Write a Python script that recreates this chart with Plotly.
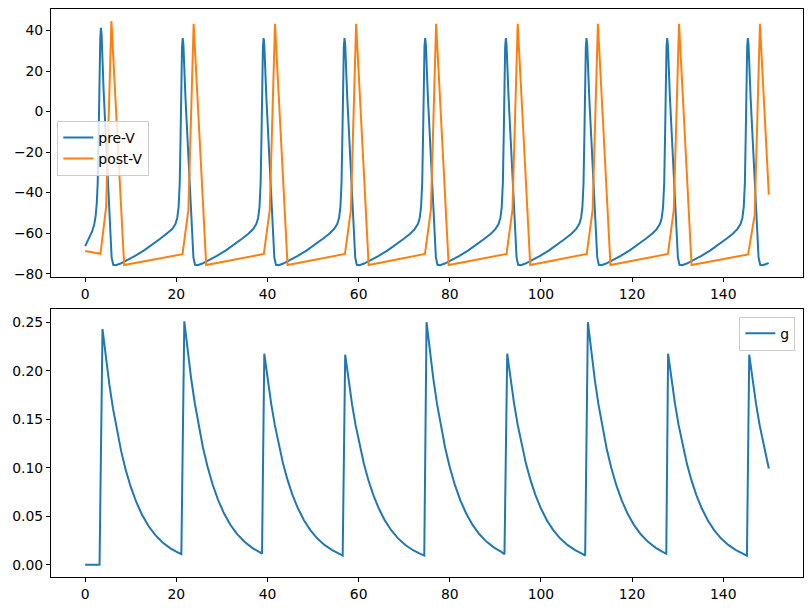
import plotly.graph_objects as go

# ---------------- data ----------------
pre_t = [0, 0.8, 1.5, 2.0, 2.3, 2.55, 2.75, 2.95, 3.1, 3.3, 3.45,
         3.6, 4.05, 4.75, 5.15, 5.5, 5.8, 6.15, 6.75, 7.75, 9.15, 10.95, 12.85, 14.65, 16.45, 17.85,
         19.1, 19.8, 20.2, 20.5, 20.75, 20.95, 21.1, 21.25, 21.4,
         21.55, 22.0, 22.7, 23.1, 23.45, 23.75, 24.1, 24.7, 25.7, 27.1, 28.9, 30.8, 32.6, 34.4, 35.8,
         36.85, 37.55, 37.95, 38.25, 38.5, 38.7, 38.85, 39.0, 39.15,
         39.3, 39.75, 40.45, 40.85, 41.2, 41.5, 41.85, 42.45, 43.45, 44.85, 46.65, 48.55, 50.35, 52.15, 53.55,
         54.6, 55.3, 55.7, 56.0, 56.25, 56.45, 56.6, 56.75, 56.9,
         57.05, 57.5, 58.2, 58.6, 58.95, 59.25, 59.6, 60.2, 61.2, 62.6, 64.4, 66.3, 68.1, 69.9, 71.3,
         72.3, 73.0, 73.4, 73.7, 73.95, 74.15, 74.3, 74.45, 74.6,
         74.75, 75.2, 75.9, 76.3, 76.65, 76.95, 77.3, 77.9, 78.9, 80.3, 82.1, 84.0, 85.8, 87.6, 89.0,
         90.0, 90.7, 91.1, 91.4, 91.65, 91.85, 92.0, 92.15, 92.3,
         92.45, 92.9, 93.6, 94.0, 94.35, 94.65, 95.0, 95.6, 96.6, 98.0, 99.8, 101.7, 103.5, 105.3, 106.7,
         107.7, 108.4, 108.8, 109.1, 109.35, 109.55, 109.7, 109.85, 110.0,
         110.15, 110.6, 111.3, 111.7, 112.05, 112.35, 112.7, 113.3, 114.3, 115.7, 117.5, 119.4, 121.2, 123.0, 124.4,
         125.4, 126.1, 126.5, 126.8, 127.05, 127.25, 127.4, 127.55, 127.7,
         127.85, 128.3, 129.0, 129.4, 129.75, 130.05, 130.4, 131.0, 132.0, 133.4, 135.2, 137.1, 138.9, 140.7, 142.1,
         143.1, 143.8, 144.2, 144.5, 144.75, 144.95, 145.1, 145.25, 145.4,
         145.55, 146.0, 146.7, 147.1, 147.45, 147.75, 148.1, 148.7, 149.7, 150.0]

pre_v = [-66.4, -63.0, -59.3, -55.5, -51.5, -45.0, -35.0, -12.0, 12.0, 35.0, 41.3,
         38, 10, -25, -43, -62, -72, -75.6, -75.8, -75.0, -73.5, -71.2, -68.6, -65.9, -62.8, -60.3,
         -58.0, -55.5, -52.5, -47, -35, -10, 15, 32, 36.3,
         33, 7, -25, -43, -62, -72, -75.6, -75.8, -75.0, -73.5, -71.2, -68.6, -65.9, -62.8, -60.3,
         -58.0, -55.5, -52.5, -47, -35, -10, 15, 32, 36.3,
         33, 7, -25, -43, -62, -72, -75.6, -75.8, -75.0, -73.5, -71.2, -68.6, -65.9, -62.8, -60.3,
         -58.0, -55.5, -52.5, -47, -35, -10, 15, 32, 36.3,
         33, 7, -25, -43, -62, -72, -75.6, -75.8, -75.0, -73.5, -71.2, -68.6, -65.9, -62.8, -60.3,
         -58.0, -55.5, -52.5, -47, -35, -10, 15, 32, 36.3,
         33, 7, -25, -43, -62, -72, -75.6, -75.8, -75.0, -73.5, -71.2, -68.6, -65.9, -62.8, -60.3,
         -58.0, -55.5, -52.5, -47, -35, -10, 15, 32, 36.3,
         33, 7, -25, -43, -62, -72, -75.6, -75.8, -75.0, -73.5, -71.2, -68.6, -65.9, -62.8, -60.3,
         -58.0, -55.5, -52.5, -47, -35, -10, 15, 32, 36.3,
         33, 7, -25, -43, -62, -72, -75.6, -75.8, -75.0, -73.5, -71.2, -68.6, -65.9, -62.8, -60.3,
         -58.0, -55.5, -52.5, -47, -35, -10, 15, 32, 36.3,
         33, 7, -25, -43, -62, -72, -75.6, -75.8, -75.0, -73.5, -71.2, -68.6, -65.9, -62.8, -60.3,
         -58.0, -55.5, -52.5, -47, -35, -10, 15, 32, 36.3,
         33, 7, -25, -43, -62, -72, -75.6, -75.8, -75.0, -74.8]

post_t = [0, 3.35, 4.6, 5.75, 8.55,
          21.35, 22.65, 23.8, 26.55,
          39.2, 40.5, 41.65, 44.4,
          57.0, 58.3, 59.45, 62.2,
          74.55, 75.85, 77.0, 79.75,
          92.45, 93.75, 94.9, 97.65,
          110.05, 111.35, 112.5, 115.25,
          127.85, 129.15, 130.3, 133.05,
          145.45, 146.9, 148.05, 150.0]

post_v = [-68.8, -70.2, -47.0, 44.6, -75.7,
          -70.4, -48.5, 43.3, -75.7,
          -70.3, -48.5, 43.3, -75.7,
          -70.3, -48.5, 43.3, -75.7,
          -70.3, -48.5, 43.3, -75.7,
          -70.3, -48.5, 43.3, -75.7,
          -70.3, -48.5, 43.3, -75.7,
          -70.3, -48.5, 43.3, -75.7,
          -70.5, -51.0, 43.3, -41.0]

g_t = [0, 3.15,
       3.8, 4.5, 5.3, 6.1, 7.0, 7.9, 8.9, 10.0, 11.2, 12.5, 13.9, 15.4, 17.0, 18.7, 20.3, 21.1,
       21.75, 22.45, 23.25, 24.05, 24.95, 25.85, 26.85, 27.95, 29.15, 30.45, 31.85, 33.35, 34.95, 36.65, 38.25, 38.8,
       39.3, 40.0, 40.8, 41.6, 42.5, 43.4, 44.4, 45.5, 46.7, 48.0, 49.4, 50.9, 52.5, 54.2, 55.8, 56.5,
       57.05, 57.75, 58.55, 59.35, 60.25, 61.15, 62.15, 63.25, 64.45, 65.75, 67.15, 68.65, 70.25, 71.95, 73.55, 74.4,
       74.9, 75.6, 76.4, 77.2, 78.1, 79.0, 80.0, 81.1, 82.3, 83.6, 85.0, 86.5, 88.1, 89.8, 91.4, 92.0,
       92.6, 93.3, 94.1, 94.9, 95.8, 96.7, 97.7, 98.8, 100.0, 101.3, 102.7, 104.2, 105.8, 107.5, 109.1, 109.7,
       110.3, 111.0, 111.8, 112.6, 113.5, 114.4, 115.4, 116.5, 117.7, 119.0, 120.4, 121.9, 123.5, 125.2, 126.8, 127.5,
       127.9, 128.6, 129.4, 130.2, 131.1, 132.0, 133.0, 134.1, 135.3, 136.6, 138.0, 139.5, 141.1, 142.8, 144.4, 145.2,
       145.7, 146.4, 147.2, 148.0, 148.9, 149.8, 150.0]

g_v = [0, 0,
       0.2430, 0.2144, 0.1859, 0.1612, 0.1372, 0.1169, 0.0977, 0.0803, 0.0648, 0.0514, 0.0400, 0.0306, 0.0230, 0.0170, 0.0128, 0.0110,
       0.2510, 0.2215, 0.1920, 0.1665, 0.1417, 0.1207, 0.1010, 0.0830, 0.0670, 0.0531, 0.0413, 0.0316, 0.0238, 0.0175, 0.0132, 0.0115,
       0.2175, 0.1919, 0.1664, 0.1442, 0.1228, 0.1046, 0.0875, 0.0719, 0.0580, 0.0460, 0.0358, 0.0274, 0.0206, 0.0152, 0.0114, 0.0096,
       0.2165, 0.1911, 0.1656, 0.1436, 0.1223, 0.1041, 0.0871, 0.0716, 0.0578, 0.0458, 0.0357, 0.0273, 0.0205, 0.0151, 0.0114, 0.0096,
       0.2500, 0.2206, 0.1913, 0.1658, 0.1412, 0.1202, 0.1006, 0.0826, 0.0667, 0.0529, 0.0412, 0.0315, 0.0237, 0.0175, 0.0131, 0.0110,
       0.2175, 0.1919, 0.1664, 0.1442, 0.1228, 0.1046, 0.0875, 0.0719, 0.0580, 0.0460, 0.0358, 0.0274, 0.0206, 0.0152, 0.0114, 0.0096,
       0.2500, 0.2206, 0.1913, 0.1658, 0.1412, 0.1202, 0.1006, 0.0826, 0.0667, 0.0529, 0.0412, 0.0315, 0.0237, 0.0175, 0.0131, 0.0115,
       0.2175, 0.1919, 0.1664, 0.1442, 0.1228, 0.1046, 0.0875, 0.0719, 0.0580, 0.0460, 0.0358, 0.0274, 0.0206, 0.0152, 0.0114, 0.0096,
       0.2165, 0.1911, 0.1656, 0.1436, 0.1223, 0.1041, 0.0993]

x_ticks = [0, 20, 40, 60, 80, 100, 120, 140]
v_ticks = [-80, -60, -40, -20, 0, 20, 40]
g_ticks = [0.00, 0.05, 0.10, 0.15, 0.20, 0.25]

BLUE = "#1f77b4"
ORANGE = "#ff7f0e"
FONT = "DejaVu Sans"
FS = 13.9

fig = go.Figure()
fig.add_trace(go.Scatter(x=pre_t, y=pre_v, mode="lines", name="pre-V",
                         line=dict(color=BLUE, width=2), xaxis="x", yaxis="y",
                         legend="legend"))
fig.add_trace(go.Scatter(x=post_t, y=post_v, mode="lines", name="post-V",
                         line=dict(color=ORANGE, width=2), xaxis="x", yaxis="y",
                         legend="legend"))
fig.add_trace(go.Scatter(x=g_t, y=g_v, mode="lines", name="g",
                         line=dict(color=BLUE, width=2), xaxis="x2", yaxis="y2",
                         legend="legend2"))

axis_common = dict(showline=True, mirror=True, linecolor="black", linewidth=1,
                   ticks="outside", ticklen=4, tickwidth=1, tickcolor="black",
                   showgrid=False, zeroline=False,
                   tickfont=dict(family=FONT, size=FS, color="black"))

fig.update_layout(
    width=811, height=611,
    margin=dict(l=51, r=8, t=9, b=34),
    paper_bgcolor="white", plot_bgcolor="white",
    font=dict(family=FONT, size=FS, color="black"),
    xaxis=dict(domain=[0, 1], anchor="y", range=[-7.5, 157.5],
               tickvals=x_ticks, **axis_common),
    yaxis=dict(domain=[0.5276, 1], anchor="x", range=[-81.8, 50.6],
               tickvals=v_ticks, **axis_common),
    xaxis2=dict(domain=[0, 1], anchor="y2", range=[-7.5, 157.5],
                tickvals=x_ticks, **axis_common),
    yaxis2=dict(domain=[0, 0.4718], anchor="x2", range=[-0.0125, 0.2636],
                tickvals=g_ticks, tickformat=".2f", **axis_common),
    legend=dict(x=0.0084, y=0.803, xanchor="left", yanchor="top",
                bgcolor="rgba(255,255,255,0.8)", bordercolor="#cccccc", borderwidth=1,
                font=dict(family=FONT, size=FS, color="black")),
    legend2=dict(x=0.9898, y=0.4583, xanchor="right", yanchor="top",
                 bgcolor="rgba(255,255,255,0.8)", bordercolor="#cccccc", borderwidth=1,
                 font=dict(family=FONT, size=FS, color="black")),
    showlegend=True,
)

fig.write_html("out.html")
